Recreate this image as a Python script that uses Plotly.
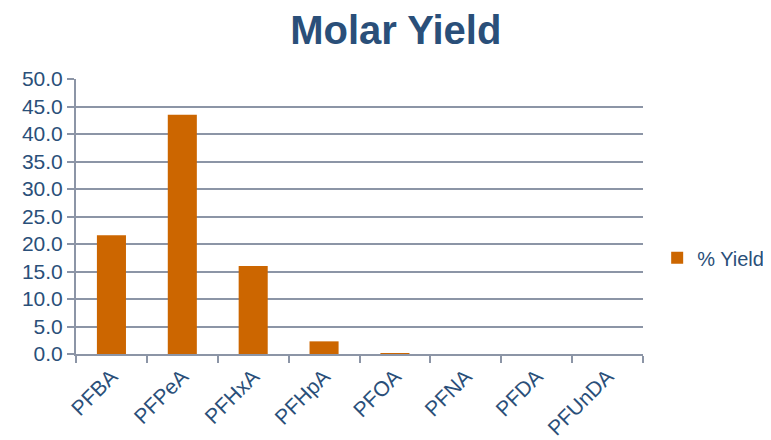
import plotly.graph_objects as go

categories = ["PFBA", "PFPeA", "PFHxA", "PFHpA", "PFOA", "PFNA", "PFDA", "PFUnDA"]
yield_pct = [21.6, 43.5, 16.0, 2.3, 0.1, 0.0, 0.0, 0.0]
y_ticks = [0, 5, 10, 15, 20, 25, 30, 35, 40, 45, 50]

text_color = "#2A4F79"
grid_color = "#8C95A6"

fig = go.Figure()
fig.add_trace(go.Bar(
    x=categories, y=yield_pct, name="% Yield",
    marker=dict(color="#CC6600", line=dict(width=0)),
    width=0.41,
))

fig.update_layout(
    width=771, height=440,
    margin=dict(l=68, r=136, t=71, b=94, autoexpand=False),
    paper_bgcolor="white", plot_bgcolor="white",
    font=dict(family="Liberation Sans, Arial, sans-serif", color=text_color, size=21),
    title=dict(text="<b>Molar Yield</b>", x=0.503, xanchor="center", y=0.95, yanchor="middle",
               font=dict(size=40, color=text_color)),
    showlegend=True,
    legend=dict(x=1.025, xanchor="left", y=0.35, yanchor="middle", itemwidth=30,
                font=dict(size=20, color=text_color), bgcolor="rgba(0,0,0,0)"),
    bargap=0.59,
)
fig.update_xaxes(
    showline=True, linecolor=grid_color, linewidth=2,
    ticks="outside", tickson="boundaries", ticklen=7, tickcolor=grid_color, tickwidth=2,
    tickangle=-45, tickfont=dict(size=21, color=text_color),
    showgrid=False, automargin=False,
)
fig.update_yaxes(
    range=[0, 50], tickvals=y_ticks, ticktext=[f"{v:.1f}" for v in y_ticks],
    showline=True, linecolor=grid_color, linewidth=2,
    ticks="outside", ticklen=7, tickcolor=grid_color, tickwidth=2,
    showgrid=True, gridcolor=grid_color, gridwidth=2,
    tickfont=dict(size=21, color=text_color),
    zeroline=False, automargin=False,
)

fig.write_html("out.html")
